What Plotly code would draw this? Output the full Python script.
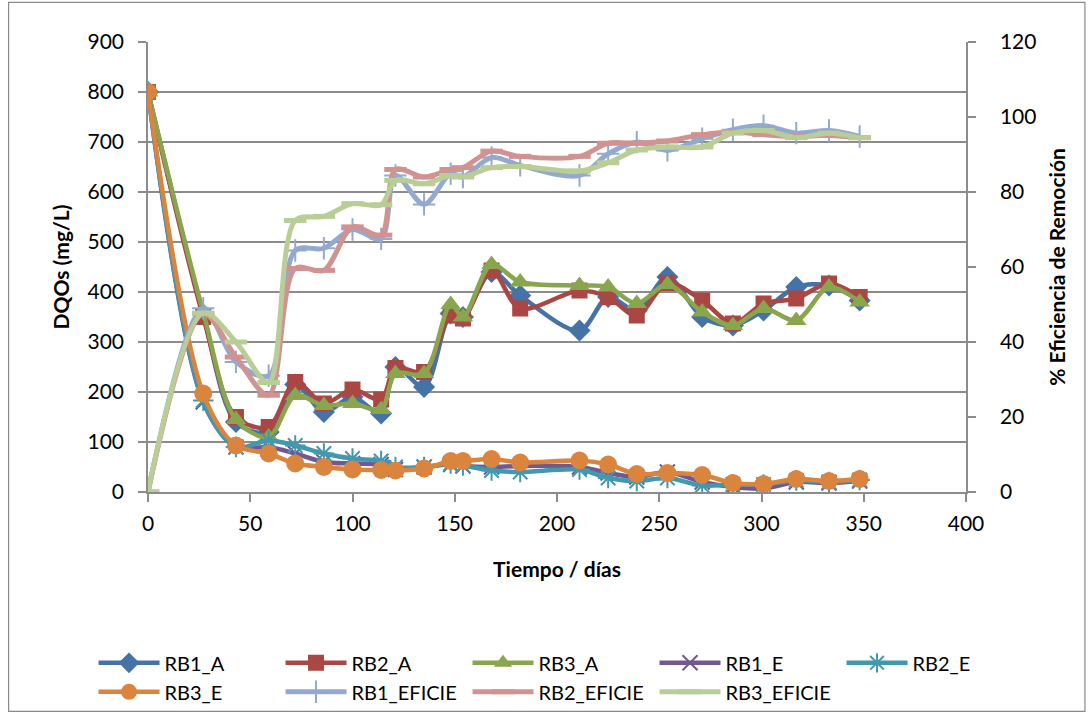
import plotly.graph_objects as go

# Sampling days
dias = [0, 27, 43, 59, 72, 86, 100, 114, 121, 135, 148, 154, 168, 182,
        211, 225, 239, 254, 271, 286, 301, 317, 333, 348]

# DQOs (mg/L)
rb1_a = [800, 355, 140, 120, 215, 160, 190, 157, 250, 210, 357, 350, 440, 393,
         323, 390, 363, 430, 350, 333, 363, 410, 413, 383]
rb2_a = [800, 350, 150, 130, 220, 177, 205, 185, 248, 240, 353, 347, 443, 367,
         403, 390, 353, 418, 383, 337, 377, 387, 417, 390]
rb3_a = [800, 360, 145, 110, 193, 173, 177, 165, 237, 237, 375, 350, 455, 420,
         413, 410, 377, 415, 360, 333, 367, 343, 410, 380]
rb1_e = [800, 180, 90, 90, 77, 60, 57, 55, 45, 50, 55, 52, 50, 52,
         50, 38, 30, 40, 20, 10, 7, 20, 18, 22]
rb2_e = [800, 183, 90, 103, 93, 77, 67, 62, 50, 50, 57, 53, 43, 40,
         45, 28, 22, 28, 13, 15, 15, 23, 20, 24]
rb3_e = [800, 197, 93, 77, 57, 50, 45, 44, 43, 47, 62, 62, 66, 59,
         63, 55, 36, 38, 34, 18, 16, 26, 22, 26]

# % removal efficiency
rb1_ef = [0, 49, 34.7, 31, 64.4, 65, 70, 67.5, 84.4, 76.7, 84.9, 84, 89.2, 87.1,
          84.4, 90.2, 93.3, 91.1, 94.2, 96.6, 97.7, 95.7, 96.4, 94.8]
rb2_ef = [0, 47.6, 36, 25.8, 59.6, 59.1, 70.7, 68.5, 86, 84, 86, 86.5, 90.9, 89.5,
          89.5, 93, 93, 93.6, 95.3, 96, 95.3, 94.8, 95.1, 94.5]
rb3_ef = [0, 47.7, 40, 29.2, 72.4, 73.5, 76.9, 76.6, 83.1, 82.2, 84.4, 84, 86.5, 86.8,
          85.6, 87.8, 91.2, 92, 92, 95.7, 96.4, 94.5, 95.7, 94.5]

FONT = "Lato"
GRID = "#8c8c8c"

# plot area in pixels
L, R, T, B = 147.5, 126, 41.7, 223.3
PW, PH = 1092 - L - R, 715 - T - B

fig = go.Figure()


def add(name, y, color, symbol, size, yaxis="y", mline=None, width=4.5):
    marker = dict(symbol=symbol, size=size, color=color)
    if mline is not None:
        marker["line"] = dict(color=color, width=mline)
    fig.add_trace(go.Scatter(
        x=dias, y=y, name=name, yaxis=yaxis,
        mode="lines+markers",
        line=dict(color=color, width=width, shape="spline", smoothing=0.9),
        marker=marker,
    ))


add("RB1_A", rb1_a, "#4572A7", "diamond", 17)
add("RB2_A", rb2_a, "#AA4643", "square", 16)
add("RB3_A", rb3_a, "#89A54E", "triangle-up", 18)
add("RB1_E", rb1_e, "#71588F", "x-thin", 15, mline=2)
add("RB2_E", rb2_e, "#4198AF", "asterisk", 17, mline=2)
add("RB3_E", rb3_e, "#DB843D", "circle", 18)
add("RB1_EFICIE", rb1_ef, "#93A9CF", "cross-thin", 16, yaxis="y2", mline=2, width=5)
add("RB2_EFICIE", rb2_ef, "#D19392", "line-ew", 16, yaxis="y2", mline=5, width=5)
add("RB3_EFICIE", rb3_ef, "#B9CD96", "line-ew", 16, yaxis="y2", mline=5, width=5)

tickfont = dict(family=FONT, size=21, color="#000000")
titlefont = dict(family=FONT, size=21, color="#000000", weight="bold")

fig.update_layout(
    width=1092, height=715,
    margin=dict(l=L, r=R, t=T, b=B, autoexpand=False),
    paper_bgcolor="white", plot_bgcolor="white",
    showlegend=True,
    legend=dict(
        orientation="h", x=(93 - L) / PW, xanchor="left",
        y=(715 - B - 643) / PH, yanchor="top",
        font=dict(family=FONT, size=20, color="#000000"),
        entrywidth=111, entrywidthmode="pixels",
        itemwidth=61, tracegroupgap=0,
        bgcolor="rgba(0,0,0,0)",
    ),
    xaxis=dict(
        range=[0, 400], tickmode="linear", tick0=0, dtick=50,
        showgrid=False, zeroline=False,
        showline=True, linecolor=GRID, linewidth=1.5,
        ticks="outside", ticklen=8, tickcolor=GRID, tickwidth=1.5,
        tickfont=tickfont, ticklabelstandoff=4,
        title=dict(text="Tiempo / días", font=titlefont, standoff=28),
    ),
    yaxis=dict(
        range=[0, 900], tickmode="linear", tick0=0, dtick=100,
        showgrid=True, gridcolor=GRID, gridwidth=1.5, zeroline=False,
        showline=True, linecolor=GRID, linewidth=1.5,
        ticks="outside", ticklen=8, tickcolor=GRID, tickwidth=1.5,
        tickfont=tickfont, ticklabelstandoff=10,
        title=dict(text="DQOs (mg/L)", font=titlefont, standoff=12),
    ),
    yaxis2=dict(
        range=[0, 120], tickmode="linear", tick0=0, dtick=20,
        overlaying="y", side="right",
        showgrid=False, zeroline=False,
        showline=True, linecolor=GRID, linewidth=1.5,
        ticks="outside", ticklen=8, tickcolor=GRID, tickwidth=1.5,
        tickfont=tickfont, ticklabelstandoff=20,
        title=dict(text="% Eficiencia de Remoción", font=titlefont, standoff=15),
    ),
    shapes=[dict(
        type="rect", xref="paper", yref="paper",
        x0=(8 - L) / PW, x1=(1085 - L) / PW,
        y0=(715 - B - 711) / PH, y1=(715 - B - 2) / PH,
        line=dict(color="#8a8a8a", width=1.2), fillcolor="rgba(0,0,0,0)",
        layer="below",
    )],
)

fig.write_html("out.html")
